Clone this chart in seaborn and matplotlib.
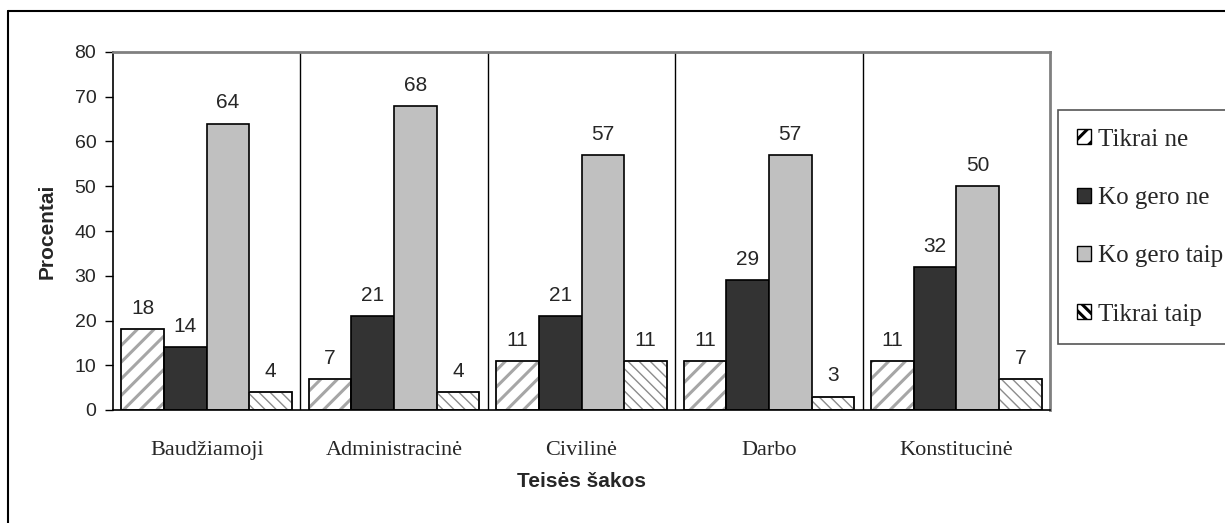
import pandas as pd
import seaborn as sns
import matplotlib.pyplot as plt
from matplotlib.patches import Patch, Rectangle
from matplotlib.lines import Line2D

# duomenys
categories = ['Baudžiamoji', 'Administracinė', 'Civilinė', 'Darbo', 'Konstitucinė']
series = ['Tikrai ne', 'Ko gero ne', 'Ko gero taip', 'Tikrai taip']
tikrai_ne = [18, 7, 11, 11, 11]
ko_gero_ne = [14, 21, 21, 29, 32]
ko_gero_taip = [64, 68, 57, 57, 50]
tikrai_taip = [4, 4, 11, 3, 7]

values = [tikrai_ne, ko_gero_ne, ko_gero_taip, tikrai_taip]
rows = []
for s, vals in zip(series, values):
    for c, v in zip(categories, vals):
        rows.append({'Teisė': c, 'Atsakymas': s, 'Procentai': v})
data = pd.DataFrame(rows)

sns.set_style("white")
plt.rcParams['font.family'] = ['Liberation Sans', 'DejaVu Sans']
plt.rcParams['hatch.linewidth'] = 2.2

palette = {'Tikrai ne': 'white', 'Ko gero ne': '#333333',
           'Ko gero taip': '#c0c0c0', 'Tikrai taip': 'white'}
hatches = {'Tikrai ne': '//', 'Tikrai taip': '\\\\\\'}
hatch_colors = {'Tikrai ne': '#a6a6a6', 'Tikrai taip': '#8c8c8c'}

fig = plt.figure(figsize=(12.25, 5.23), dpi=100)
ax = fig.add_axes([113 / 1225, 1 - 410 / 523, (1050 - 113) / 1225, (410 - 52) / 523])

sns.barplot(data=data, x='Teisė', y='Procentai', hue='Atsakymas', palette=palette,
            width=0.91, saturation=1, edgecolor='black', linewidth=1.2,
            legend=False, ax=ax)

# šešėliavimas: brūkšnių spalva = kraštinės spalva, kontūrą pridedam atskirai
for s, cont in zip(series, ax.containers):
    ax.bar_label(cont, padding=8, fontsize=15, family='Liberation Sans')
    if s in hatches:
        for p in cont:
            p.set_hatch(hatches[s])
            p.set_edgecolor(hatch_colors[s])
            if s == 'Tikrai taip' and hasattr(p, 'set_hatch_linewidth'):
                p.set_hatch_linewidth(1.0)
            ax.add_patch(Rectangle(p.get_xy(), p.get_width(), p.get_height(),
                                   fill=False, edgecolor='black', linewidth=1.2, zorder=p.get_zorder() + 0.1))

ax.set_ylim(0, 80)
ax.set_xlim(-0.5, len(categories) - 0.5)
ax.set_yticks(range(0, 81, 10))

# kategorijų skirtukai
for b in range(1, len(categories)):
    ax.axvline(b - 0.5, color='black', linewidth=1, zorder=0)
ax.set_xticks([i - 0.5 for i in range(len(categories) + 1)], minor=True)
ax.tick_params(axis='x', which='major', length=0, pad=22, labelsize=16)
ax.tick_params(axis='x', which='minor', length=6, width=1, direction='out', color='black')
ax.tick_params(axis='y', length=6, width=1, direction='out', color='black', pad=6, labelsize=14, left=True)
for lab in ax.get_xticklabels():
    lab.set_family('Liberation Serif')

for side in ['top', 'right']:
    ax.spines[side].set_color('#808080')
    ax.spines[side].set_linewidth(2)
for side in ['left', 'bottom']:
    ax.spines[side].set_color('black')
    ax.spines[side].set_linewidth(1.2)

ax.set_xlabel('Teisės šakos', fontsize=15, fontweight='bold', labelpad=9)
ax.set_ylabel('Procentai', fontsize=15, fontweight='bold', labelpad=13)

# legenda
handles = []
for s in series:
    handles.append(Patch(facecolor=palette[s], edgecolor='black', hatch=hatches.get(s), label=s))
leg = fig.legend(handles=handles, loc='upper left', bbox_to_anchor=(1058 / 1225, 1 - 110 / 523),
                 frameon=True, fancybox=False, edgecolor='#555555', framealpha=1,
                 prop={'family': 'Liberation Serif', 'size': 18},
                 handlelength=0.55, handleheight=0.55, handletextpad=0.3,
                 labelspacing=1.45, borderpad=0.75, borderaxespad=0)
leg.get_frame().set_linewidth(1.2)

# išorinis rėmelis
fig.add_artist(Line2D([8 / 1225, 1], [1 - 11 / 523, 1 - 11 / 523], color='black', linewidth=1.5))
fig.add_artist(Line2D([8 / 1225, 8 / 1225], [0, 1 - 11 / 523], color='black', linewidth=1.5))

plt.savefig("out.png", dpi=100)
